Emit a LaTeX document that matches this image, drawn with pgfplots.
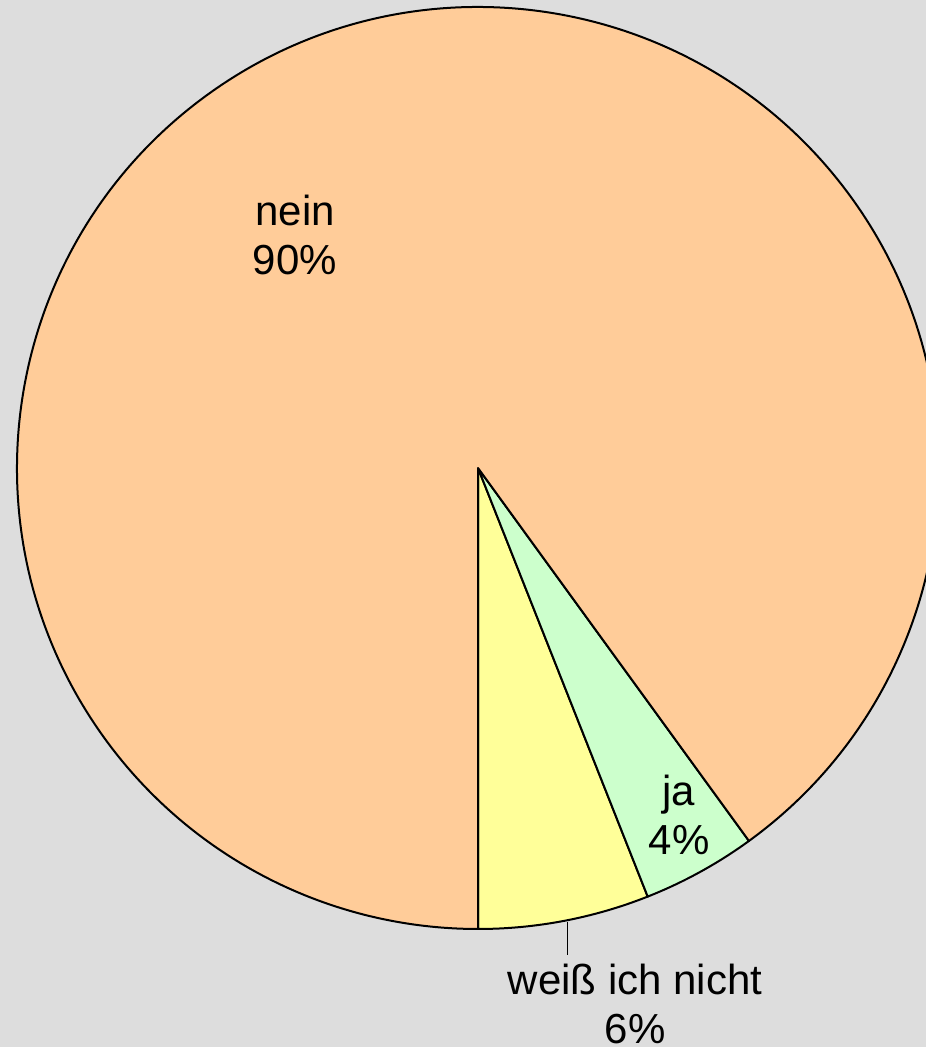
\documentclass[border=0pt]{standalone}
\usepackage{pgfplots}
\pgfplotsset{compat=1.18}
\usepackage{fontspec}
\setmainfont{Liberation Sans}
\definecolor{bg}{HTML}{DDDDDD}
\definecolor{cnein}{HTML}{FFCC99}
\definecolor{cja}{HTML}{CCFFCC}
\definecolor{cweiss}{HTML}{FFFF99}
\begin{document}
\begin{tikzpicture}
\begin{axis}[
  x=1pt, y=1pt,
  xmin=0, xmax=926, ymin=0, ymax=1047,
  scale only axis,
  hide axis,
  disabledatascaling,
  clip=true,
  axis background/.style={fill=bg},
]
% values in percent: weiss ich nicht 6, ja 4, nein 90 (counterclockwise from bottom)
\filldraw[fill=cweiss, draw=black, line width=2pt, line join=round]
  (axis cs:478,579) -- ++(270:461pt) arc[start angle=270, delta angle=6*3.6, radius=461pt] -- cycle;
\filldraw[fill=cja, draw=black, line width=2pt, line join=round]
  (axis cs:478,579) -- ++(270+6*3.6:461pt) arc[start angle=270+6*3.6, delta angle=4*3.6, radius=461pt] -- cycle;
\filldraw[fill=cnein, draw=black, line width=2pt, line join=round]
  (axis cs:478,579) -- ++(270+10*3.6:461pt) arc[start angle=270+10*3.6, delta angle=90*3.6, radius=461pt] -- cycle;
\draw[black, line width=1pt] (axis cs:567,125) -- (axis cs:567,92);
\node[align=center, font=\fontsize{42}{49}\selectfont] at (axis cs:295,812) {nein\\90\%};
\node[align=center, font=\fontsize{42}{49}\selectfont] at (axis cs:679,232) {ja\\4\%};
\node[align=center, font=\fontsize{42}{49}\selectfont] at (axis cs:635,43) {weiß ich nicht\\6\%};
\end{axis}
\end{tikzpicture}
\end{document}
